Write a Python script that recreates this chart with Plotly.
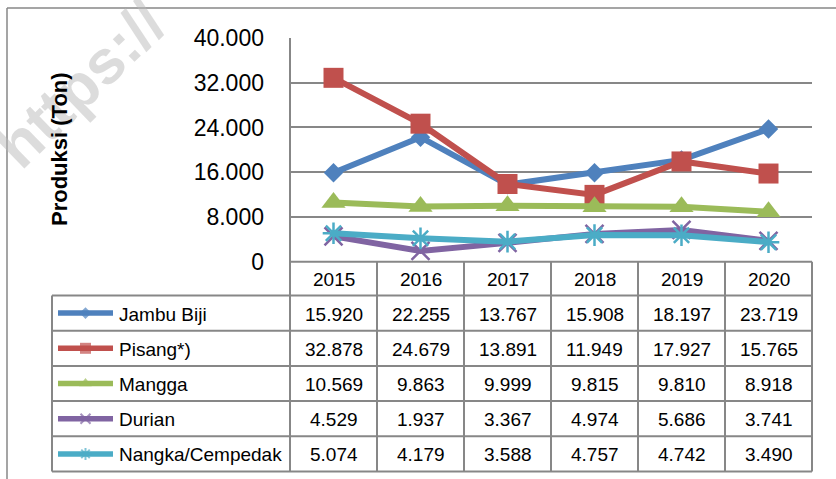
import plotly.graph_objects as go

W, H = 836, 479

years = ["2015", "2016", "2017", "2018", "2019", "2020"]
series_names = ["Jambu Biji", "Pisang*)", "Mangga", "Durian", "Nangka/Cempedak"]
jambu_biji = [15920, 22255, 13767, 15908, 18197, 23719]
pisang = [32878, 24679, 13891, 11949, 17927, 15765]
mangga = [10569, 9863, 9999, 9815, 9810, 8918]
durian = [4529, 1937, 3367, 4974, 5686, 3741]
nangka = [5074, 4179, 3588, 4757, 4742, 3490]
y_ticks = [0, 8000, 16000, 24000, 32000, 40000]
y_title = "Produksi (Ton)"

series_values = [jambu_biji, pisang, mangga, durian, nangka]
colors = ["#4F81BD", "#C0504D", "#9BBB59", "#8064A2", "#4BACC6"]
symbols = ["diamond", "square", "triangle-up", "x-thin-open", "asterisk-open"]
sizes = [15, 20, 21, 18, 18]
leg_sizes = [9, 11, 11, 10, 10]
FONT = "Liberation Sans, Arial, sans-serif"
GRID = "#878787"


def fmt(v):
    return f"{v:,}".replace(",", ".")


def px(x):
    return x / W


def py(y):
    return 1 - y / H


# layout geometry (pixels)
PL, PR, PT, PB = 290, 812, 38, 261.7
ROW_H = 35.2
HEAD_B = 295.5
TAB_B = HEAD_B + 5 * ROW_H
LEG_L = 52
COL_W = (PR - PL) / 6

fig = go.Figure()

xs = list(range(len(years)))
for name, vals, c, sym, s in zip(series_names, series_values, colors, symbols, sizes):
    thin = sym.endswith("-open")
    fig.add_trace(go.Scatter(
        x=xs, y=vals, name=name, mode="lines+markers",
        line=dict(color=c, width=6),
        marker=dict(symbol=sym, size=s, color=c,
                    line=dict(color=c, width=2.5 if thin else 0)),
        cliponaxis=False, showlegend=False, xaxis="x", yaxis="y"))

# legend key samples in the data-table's first column
for i, (name, c, sym, s) in enumerate(zip(series_names, colors, symbols, leg_sizes)):
    thin = sym.endswith("-open")
    fig.add_trace(go.Scatter(
        x=[0, 0.5, 1], y=[i, i, i], mode="lines+markers",
        line=dict(color=c, width=5.5),
        marker=dict(symbol=sym, size=[0, s, 0], color=c,
                    line=dict(color=c, width=2 if thin else 0)),
        cliponaxis=False, showlegend=False, xaxis="x2", yaxis="y2"))

shapes = []


def hline(y, x0, x1, w=2):
    shapes.append(dict(type="line", xref="paper", yref="paper",
                       x0=px(x0), x1=px(x1), y0=py(y), y1=py(y),
                       line=dict(color=GRID, width=w), layer="above"))


def vline(x, y0, y1, w=2):
    shapes.append(dict(type="line", xref="paper", yref="paper",
                       x0=px(x), x1=px(x), y0=py(y0), y1=py(y1),
                       line=dict(color=GRID, width=w), layer="above"))


# outer chart border
hline(8, 7, W, 1.5)
vline(7, 8, H, 1.5)
# axis + table grid
vline(PL, PT, TAB_B)
hline(PB, PL, PR)
for k in range(1, 7):
    vline(PL + k * COL_W, PB, TAB_B)
for r in range(6):
    hline(HEAD_B + r * ROW_H, LEG_L, PR)
vline(LEG_L, HEAD_B, TAB_B)

annotations = []


def ann(text, x, y, size, xref="paper", xanchor="center", angle=0, color="black"):
    annotations.append(dict(text=text, xref=xref, yref="paper", x=x, y=y,
                            xanchor=xanchor, yanchor="middle", showarrow=False,
                            textangle=angle,
                            font=dict(family=FONT, size=size, color=color)))


# watermark
ann("<b>https://</b>", px(80), py(84), 62, angle=-44, color="rgba(185,185,185,0.5)")
# y axis title
ann(f"<b>{y_title}</b>", px(60), py(149), 22, angle=-90)
# header years
for i, yr in enumerate(years):
    ann(yr, i, py(PB + (HEAD_B - PB) / 2 + 1), 19, xref="x")
# rows
for r, (name, vals) in enumerate(zip(series_names, series_values)):
    yc = py(HEAD_B + (r + 0.5) * ROW_H + 1)
    ann(name, px(117), yc, 19, xanchor="left")
    for i, v in enumerate(vals):
        ann(fmt(v), i, yc, 19, xref="x")

fig.update_layout(
    template="none",
    width=W, height=H, autosize=False,
    margin=dict(l=0, r=0, t=0, b=0, pad=0),
    paper_bgcolor="white", plot_bgcolor="white",
    font=dict(family=FONT, color="black"),
    showlegend=False,
    xaxis=dict(domain=[px(PL), px(PR)], range=[-0.5, 5.5], showgrid=False, automargin=False,
               zeroline=False, showticklabels=False, showline=False, ticks="", fixedrange=True),
    yaxis=dict(domain=[py(PB), py(PT)], range=[0, 40000], tickvals=y_ticks, automargin=False,
               ticktext=[fmt(v) for v in y_ticks], showgrid=True, gridcolor=GRID,
               gridwidth=2, zeroline=False, showline=False, ticks="",
               ticklabelstandoff=25, tickfont=dict(family=FONT, size=23, color="black")),
    xaxis2=dict(domain=[px(58), px(113)], range=[0, 1], visible=False, anchor="y2",
                automargin=False),
    yaxis2=dict(domain=[py(TAB_B), py(HEAD_B)], range=[4.5, -0.5], visible=False, anchor="x2",
                automargin=False),
    shapes=shapes,
    annotations=annotations,
)

fig.write_html("out.html",
               config={"displayModeBar": False},
               post_script="document.body.style.margin='0';document.body.style.overflow='hidden';")
